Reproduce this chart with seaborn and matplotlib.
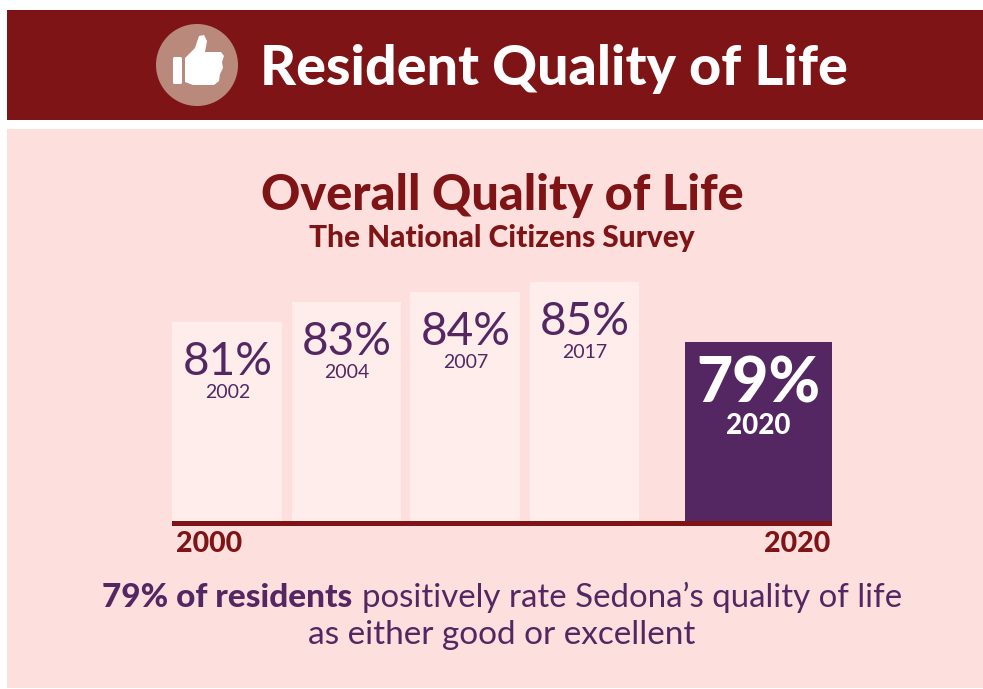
import matplotlib
matplotlib.use("Agg")
import matplotlib.pyplot as plt
from matplotlib.patches import Rectangle, Circle, Polygon, FancyBboxPatch
import pandas as pd
import seaborn as sns

# Survey results
survey_years = ["2002", "2004", "2007", "2017", "2020"]
positive_share = [81, 83, 84, 85, 79]
highlight_year = "2020"
axis_start_label = "2000"
axis_end_label = "2020"

WIDTH, HEIGHT = 983, 689
DARK_RED = "#7f1416"
PINK = "#fde0dd"
PALE = "#feedeb"
PURPLE = "#542762"

# Horizontal span of each column in pixels: the time axis is not evenly spaced
BAR_SPANS = [(172, 282), (292, 401), (410, 520), (530, 639), (685, 832)]
BASELINE_Y, PLOT_TOP_Y = 521, 271
PLOT_LEFT, PLOT_RIGHT = 172, 832
VALUE_FLOOR, PIXELS_PER_POINT = 61.3, 10.1

sns.set_theme(style="white")
plt.rcParams["font.family"] = ["Lato", "DejaVu Sans"]

fig = plt.figure(figsize=(WIDTH / 100, HEIGHT / 100), dpi=100, facecolor="white")

# Page layer in pixel coordinates
page = fig.add_axes([0, 0, 1, 1], zorder=0)
page.set_xlim(0, WIDTH)
page.set_ylim(HEIGHT, 0)
page.axis("off")
page.add_patch(Rectangle((7, 10), WIDTH - 7, 110, color=DARK_RED, lw=0))
page.add_patch(Rectangle((7, 129), WIDTH - 7, 559, color=PINK, lw=0))

# Thumbs-up badge
page.add_patch(Circle((197, 65), 41, color="#b98a7c", lw=0))
page.add_patch(FancyBboxPatch((173, 57), 9, 27, boxstyle="round,pad=0,rounding_size=1.5",
                              color="white", lw=0))
page.add_patch(Polygon([(185, 58), (195, 48), (199, 36), (204, 35), (207, 41), (205, 52),
                        (221, 52), (224, 56), (222, 62), (223, 68), (220, 74), (219, 81),
                        (214, 85), (193, 85), (185, 82)], closed=True, color="white", lw=0))

page.text(260, 64, "Resident Quality of Life", color="white", fontsize=40,
          fontweight="black", ha="left", va="center_baseline")
page.text(502, 192, "Overall Quality of Life", color=DARK_RED, fontsize=35,
          fontweight="black", ha="center", va="center_baseline")
page.text(502, 236, "The National Citizens Survey", color=DARK_RED, fontsize=21.4,
          fontweight="black", ha="center", va="center_baseline")

# Chart layer with a truncated value axis
chart = fig.add_axes([PLOT_LEFT / WIDTH, 1 - BASELINE_Y / HEIGHT,
                      (PLOT_RIGHT - PLOT_LEFT) / WIDTH,
                      (BASELINE_Y - PLOT_TOP_Y) / HEIGHT], zorder=1)
chart.patch.set_alpha(0)

data = pd.DataFrame({"year": survey_years, "share": positive_share})
palette = {y: (PURPLE if y == highlight_year else PALE) for y in survey_years}
sns.barplot(data=data, x="year", y="share", hue="year", palette=palette, legend=False,
            saturation=1, ax=chart)
chart.set_ylim(VALUE_FLOOR, VALUE_FLOOR + (BASELINE_Y - PLOT_TOP_Y) / PIXELS_PER_POINT)
chart.set_xlim(PLOT_LEFT, PLOT_RIGHT)
chart.axis("off")

for bar, (left, right), year, share in zip(chart.patches, BAR_SPANS, survey_years, positive_share):
    bar.set_x(left)
    bar.set_width(right - left)
    bar.set_linewidth(0)
    focus = year == highlight_year
    colour = "white" if focus else PURPLE
    centre = (left + right) / 2 + (0 if focus else 0.5)
    chart.annotate(f"{share}%", (centre, share), xytext=(0, -37 if focus else -36),
                   textcoords="offset pixels", ha="center", va="center_baseline", color=colour,
                   fontsize=45 if focus else 33, fontweight="black" if focus else "normal")
    chart.annotate(year, (centre, share), xytext=(0, -81 if focus else -69),
                   textcoords="offset pixels", ha="center", va="center_baseline", color=colour,
                   fontsize=20 if focus else 14, fontweight="black" if focus else "normal")

# Time axis rule and end labels
page.add_patch(Rectangle((PLOT_LEFT, BASELINE_Y), PLOT_RIGHT - PLOT_LEFT, 5,
                         color=DARK_RED, lw=0, zorder=3))
page.text(176, 542, axis_start_label, color=DARK_RED, fontsize=20.5, fontweight="black",
          ha="left", va="center_baseline")
page.text(830, 542, axis_end_label, color=DARK_RED, fontsize=20.5, fontweight="black",
          ha="right", va="center_baseline")

# Closing statement with its lead phrase in bold
page.text(102, 607, "79% of residents", color=PURPLE, fontsize=24, fontweight="black",
          ha="left", va="baseline")
page.text(902, 607, "positively rate Sedona\u2019s quality of life", color=PURPLE, fontsize=23.8,
          ha="right", va="baseline")
page.text(502, 644, "as either good or excellent", color=PURPLE, fontsize=24,
          ha="center", va="baseline")

fig.savefig("out.png", dpi=100, facecolor="white")
